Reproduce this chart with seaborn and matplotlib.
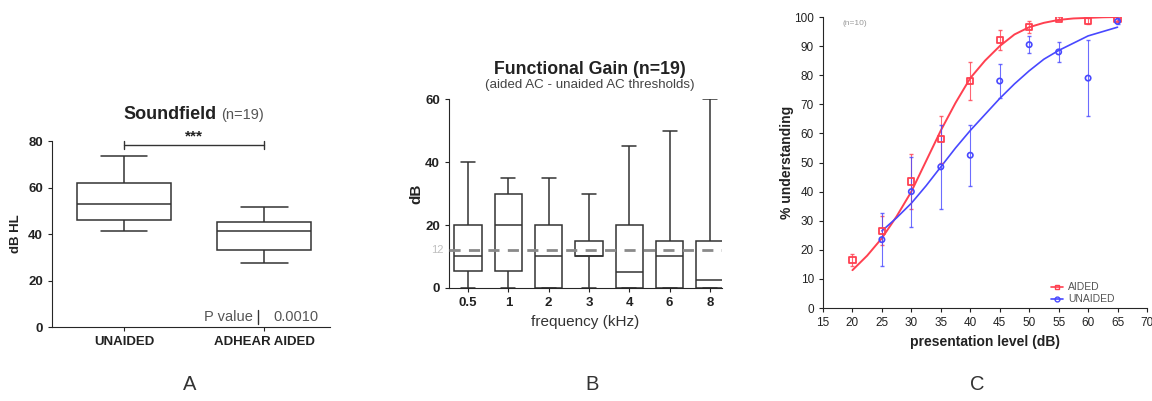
import seaborn as sns
import matplotlib.pyplot as plt
import pandas as pd
from matplotlib.lines import Line2D

# Panel A: five-number summaries (min, q1, median, q3, max), dB HL
a_groups = ['UNAIDED', 'ADHEAR AIDED']
a_unaided = [41.5, 46, 53, 62, 73.5]
a_aided = [27.5, 33, 41.5, 45, 51.5]

# Panel B: functional gain five-number summaries per frequency
b_freqs = ['0.5', '1', '2', '3', '4', '6', '8']
b_stats = {
    '0.5': [0, 5.5, 10, 20, 40],
    '1': [0, 5.5, 20, 30, 35],
    '2': [0, 0, 10, 20, 35],
    '3': [0, 10, 10, 15, 30],
    '4': [0, 0, 5, 20, 45],
    '6': [0, 0, 10, 15, 50],
    '8': [0, 0, 2.5, 15, 60],
}
b_mean_gain = 12

# Panel C: speech understanding
c_levels = [20, 25, 30, 35, 40, 45, 50, 55, 60, 65]
c_aided = [16.5, 26.5, 43.5, 58, 78, 92, 96.5, 99.5, 98.5, 99.5]
c_aided_err = [2, 5, 9.5, 8, 6.5, 3.5, 2, 0.5, 1, 0.5]
u_levels = [25, 30, 35, 40, 45, 50, 55, 60, 65]
c_unaided = [23.5, 40, 48.5, 52.5, 78, 90.5, 88, 79, 98.5]
c_unaided_err = [9, 12, 14.5, 10.5, 6, 3, 3.5, 13, 1]
# fitted curves
fit_a_x = [20, 22.5, 25, 27.5, 30, 32.5, 35, 37.5, 40, 42.5, 45, 47.5, 50, 52.5, 55, 57.5, 60, 62.5, 65]
fit_a_y = [13, 18, 24, 31.5, 40, 50.5, 61, 70.5, 79, 85, 90, 94, 96.5, 98, 99, 99.5, 99.7, 99.9, 100]
fit_u_x = [25, 27.5, 30, 32.5, 35, 37.5, 40, 42.5, 45, 47.5, 50, 52.5, 55, 57.5, 60, 62.5, 65]
fit_u_y = [26.5, 31, 36, 42, 48.5, 55, 61, 66.5, 72, 77, 81.5, 85.5, 88.5, 91, 93.5, 95, 96.5]

sns.set_style('ticks')
plt.rcParams['font.family'] = ['Liberation Sans', 'DejaVu Sans']

fig = plt.figure(figsize=(11.52, 4.01), dpi=100)
axA = fig.add_axes([0.0451, 0.1845, 0.2413, 0.4638])
axB = fig.add_axes([0.3898, 0.2818, 0.2370, 0.4713])
axC = fig.add_axes([0.7144, 0.2319, 0.28125, 0.7257])

txt = '#222222'

# ---- A ----
dfA = pd.DataFrame({'group': [a_groups[0]] * 5 + [a_groups[1]] * 5,
                    'value': a_unaided + a_aided})
sns.boxplot(x='group', y='value', data=dfA, order=a_groups, whis=(0, 100),
            color='white', linecolor='#333333', linewidth=1.1, width=0.67, ax=axA)
axA.set_ylim(0, 80)
axA.set_xlim(-0.514, 1.47)
axA.set_yticks([0, 20, 40, 60, 80])
axA.set_xlabel('')
axA.set_ylabel('dB HL', fontsize=9.5, fontweight='bold', color=txt)
axA.tick_params(labelsize=9.5, colors=txt, length=3)
for lab in axA.get_xticklabels() + axA.get_yticklabels():
    lab.set_fontweight('bold')
sns.despine(ax=axA)
axA.plot([0, 1], [78.3, 78.3], color='#333333', lw=1)
axA.plot([0, 0], [76.5, 80], color='#333333', lw=1, clip_on=False)
axA.plot([1, 1], [76.5, 80], color='#333333', lw=1, clip_on=False)
axA.text(0.5, 79, '***', ha='center', va='bottom', fontsize=11, fontweight='bold', color=txt)
axA.text(0.594, 1.14, 'Soundfield', transform=axA.transAxes, ha='right', va='center',
         fontsize=13, fontweight='bold', color=txt)
axA.text(0.608, 1.14, '(n=19)', transform=axA.transAxes, ha='left', va='center',
         fontsize=10.5, color='#555555')
axA.text(0.92, 4.3, 'P value', ha='right', va='center', fontsize=10.5, color='#555555')
axA.plot([0.957, 0.957], [1.2, 7.4], color='#333333', lw=1)
axA.text(1.064, 4.3, '0.0010', ha='left', va='center', fontsize=10.5, color='#555555')

# ---- B ----
rows = []
for f in b_freqs:
    for v in b_stats[f]:
        rows.append((f, v))
dfB = pd.DataFrame(rows, columns=['freq', 'gain'])
sns.boxplot(x='freq', y='gain', data=dfB, order=b_freqs, whis=(0, 100),
            color='white', linecolor='#333333', linewidth=1.1, width=0.68, ax=axB)
axB.axhline(b_mean_gain, color='#8a8a8a', lw=2, dashes=(4, 3), zorder=5)
axB.text(-0.044, b_mean_gain, '12', transform=axB.get_yaxis_transform(), ha='center',
         va='center', fontsize=8, color='#c0c0c0')
axB.set_ylim(0, 60)
axB.set_xlim(-0.47, 6.3)
axB.set_yticks([0, 20, 40, 60])
axB.set_xlabel('frequency (kHz)', fontsize=11, color='#333333')
axB.set_ylabel('dB', fontsize=11, fontweight='bold', color=txt, labelpad=1)
axB.tick_params(labelsize=9.5, colors=txt, length=3)
for lab in axB.get_xticklabels() + axB.get_yticklabels():
    lab.set_fontweight('bold')
sns.despine(ax=axB)
axB.text(0.516, 1.155, 'Functional Gain (n=19)', transform=axB.transAxes, ha='center',
         va='center', fontsize=12.8, fontweight='bold', color=txt)
axB.text(0.516, 1.075, '(aided AC - unaided AC thresholds)', transform=axB.transAxes,
         ha='center', va='center', fontsize=9.6, color='#444444')

# ---- C ----
red = '#ff4050'
blue = '#4848ff'
sns.lineplot(x=fit_a_x, y=fit_a_y, color=red, lw=1.4, ax=axC)
sns.lineplot(x=fit_u_x, y=fit_u_y, color=blue, lw=1.2, ax=axC)
axC.errorbar(c_levels, c_aided, yerr=c_aided_err, fmt='none', ecolor=red, elinewidth=0.8,
             capsize=1.5, alpha=0.8)
axC.errorbar(u_levels, c_unaided, yerr=c_unaided_err, fmt='none', ecolor=blue,
             elinewidth=0.8, capsize=1.5, alpha=0.8)
sns.scatterplot(x=c_levels, y=c_aided, marker='s', s=20, facecolor='none', edgecolor=red,
                linewidth=1.3, ax=axC, zorder=6)
sns.scatterplot(x=u_levels, y=c_unaided, marker='o', s=15, facecolor='none', edgecolor=blue,
                linewidth=1.2, ax=axC, zorder=6)
axC.set_xlim(15, 70)
axC.set_ylim(0, 100)
axC.set_xticks(range(15, 71, 5))
axC.set_yticks(range(0, 101, 10))
axC.set_xlabel('presentation level (dB)', fontsize=10, fontweight='bold', color=txt)
axC.set_ylabel('% understanding', fontsize=10, fontweight='bold', color=txt, labelpad=0)
axC.tick_params(labelsize=8.5, colors=txt, length=3)
sns.despine(ax=axC)
axC.text(0.059, 0.979, '(n=10)', transform=axC.transAxes, fontsize=6, color='#999999',
         ha='left', va='center')
handles = [Line2D([], [], color=red, marker='s', markersize=3.5, markerfacecolor='none', lw=1.2),
           Line2D([], [], color=blue, marker='o', markersize=3.5, markerfacecolor='none', lw=1.2)]
axC.legend(handles, ['AIDED', 'UNAIDED'], loc='lower right', bbox_to_anchor=(0.93, -0.02),
           fontsize=7.5, frameon=False, handlelength=1.2, labelspacing=0.2,
           handletextpad=0.5, labelcolor='#555555')

# panel letters
for x, l in [(0.165, 'A'), (0.514, 'B'), (0.848, 'C')]:
    fig.text(x, 0.04, l, ha='center', va='center', fontsize=14.5, color='#333333')

fig.savefig('out.png', dpi=100)
